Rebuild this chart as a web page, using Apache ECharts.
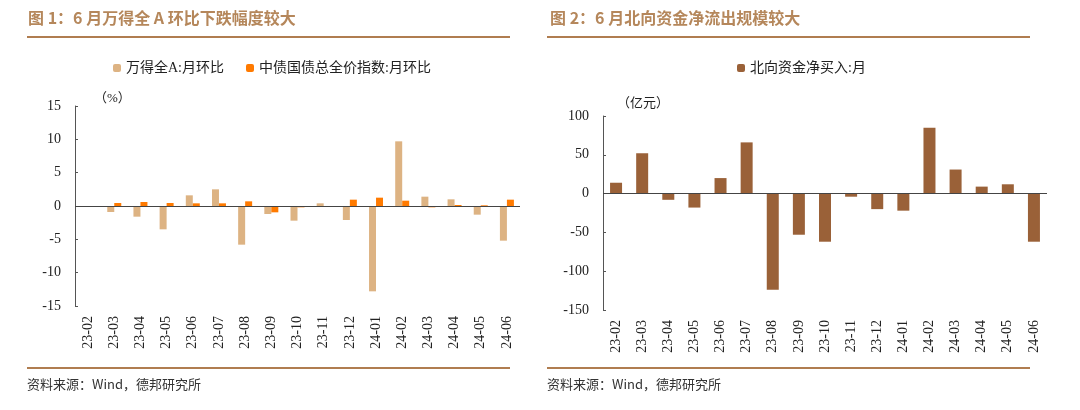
<!DOCTYPE html>
<html>
<head>
<meta charset="utf-8">
<script src="https://cdn.jsdelivr.net/npm/echarts@6/dist/echarts.min.js"></script>
<style>
  html, body { margin: 0; padding: 0; background: #fff; }
  #chart { width: 1080px; height: 410px; }
</style>
</head>
<body>
<div id="chart"></div>
<script>
// 月份
var months = ['23-02', '23-03', '23-04', '23-05', '23-06', '23-07', '23-08', '23-09', '23-10',
  '23-11', '23-12', '24-01', '24-02', '24-03', '24-04', '24-05', '24-06'];
// 图1：万得全A 月环比 (%)
var windA = [-0.1, -0.9, -1.6, -3.5, 1.6, 2.5, -5.8, -1.2, -2.2, 0.4, -2.1, -12.8, 9.7, 1.4, 1.0, -1.3, -5.2];
// 图1：中债国债总全价指数 月环比 (%)
var bondIdx = [-0.1, 0.45, 0.6, 0.45, 0.4, 0.4, 0.7, -0.95, -0.2, -0.1, 0.95, 1.25, 0.8, -0.2, 0.15, 0.1, 0.95];
// 图2：北向资金净买入 月 (亿元)
var northFlow = [14, 52, -8, -18, 20, 66, -124, -53, -62, -4, -20, -22, 85, 31, 9, 12, -62];

var titleColor = '#b5875b';
var ruleColor = '#b07d50';
var serif = "'Liberation Serif', 'Noto Sans CJK SC', serif";
var cjk = "'Noto Sans CJK SC', sans-serif";

function xAxisFor(gridIdx) {
  return {
    type: 'category',
    gridIndex: gridIdx,
    data: months,
    axisLine: { show: false },
    axisTick: { show: false },
    axisLabel: { rotate: 90, margin: 10, color: '#222', fontFamily: serif, fontSize: 14 }
  };
}
function yAxisFor(gridIdx, min, max, step) {
  return {
    type: 'value',
    gridIndex: gridIdx,
    min: min, max: max, interval: step,
    axisLine: { show: true, lineStyle: { color: '#555', width: 1 } },
    axisTick: { show: true, inside: true, length: 3, lineStyle: { color: '#555' } },
    splitLine: { show: false },
    axisLabel: { margin: 14, color: '#222', fontFamily: serif, fontSize: 14 }
  };
}
var zeroLine = {
  silent: true,
  symbol: 'none',
  label: { show: false },
  lineStyle: { color: '#444', width: 1, type: 'solid' },
  data: [{ yAxis: 0 }]
};

var chart = echarts.init(document.getElementById('chart'));
var option = {
  animation: false,
  backgroundColor: '#fff',
  grid: [
    { left: 75, top: 106, width: 445, height: 200 },
    { left: 603, top: 116, width: 444, height: 194 }
  ],
  legend: [
    {
      data: ['万得全A:月环比', '中债国债总全价指数:月环比'],
      left: 108, top: 56, itemWidth: 8, itemHeight: 8, itemGap: 22,
      textStyle: { fontFamily: serif, fontSize: 14, color: '#222' }
    },
    {
      data: ['北向资金净买入:月'],
      left: 732, top: 56, itemWidth: 8, itemHeight: 8,
      textStyle: { fontFamily: serif, fontSize: 14, color: '#222' }
    }
  ],
  xAxis: [xAxisFor(0), xAxisFor(1)],
  yAxis: [yAxisFor(0, -15, 15, 5), yAxisFor(1, -150, 100, 50)],
  series: [
    {
      name: '万得全A:月环比', type: 'bar', xAxisIndex: 0, yAxisIndex: 0,
      data: windA, barWidth: 7, barGap: '0%',
      itemStyle: { color: '#ddb383' },
      markLine: zeroLine
    },
    {
      name: '中债国债总全价指数:月环比', type: 'bar', xAxisIndex: 0, yAxisIndex: 0,
      data: bondIdx, barWidth: 7, barGap: '0%',
      itemStyle: { color: '#ff7a00' }
    },
    {
      name: '北向资金净买入:月', type: 'bar', xAxisIndex: 1, yAxisIndex: 1,
      data: northFlow, barWidth: 12,
      itemStyle: { color: '#9a6138' },
      markLine: zeroLine
    }
  ],
  graphic: [
    { type: 'text', left: 28, top: 10, style: { text: '图 1：6 月万得全 A 环比下跌幅度较大', fill: titleColor, font: 'bold 16px ' + cjk } },
    { type: 'text', left: 550, top: 10, style: { text: '图 2：6 月北向资金净流出规模较大', fill: titleColor, font: 'bold 16px ' + cjk } },
    { type: 'rect', shape: { x: 27, y: 36, width: 483, height: 2 }, style: { fill: ruleColor } },
    { type: 'rect', shape: { x: 547, y: 36, width: 483, height: 2 }, style: { fill: ruleColor } },
    { type: 'rect', shape: { x: 27, y: 367, width: 483, height: 2 }, style: { fill: ruleColor } },
    { type: 'rect', shape: { x: 547, y: 367, width: 483, height: 2 }, style: { fill: ruleColor } },
    { type: 'text', left: 94, top: 92, style: { text: '（%）', fill: '#222', font: '13px ' + serif } },
    { type: 'text', left: 617, top: 97, style: { text: '（亿元）', fill: '#222', font: '13px ' + serif } },
    { type: 'text', left: 27, top: 378, style: { text: '资料来源：Wind，德邦研究所', fill: '#333', font: '13px ' + cjk } },
    { type: 'text', left: 547, top: 378, style: { text: '资料来源：Wind，德邦研究所', fill: '#333', font: '13px ' + cjk } }
  ]
};
chart.setOption(option);
</script>
</body>
</html>
